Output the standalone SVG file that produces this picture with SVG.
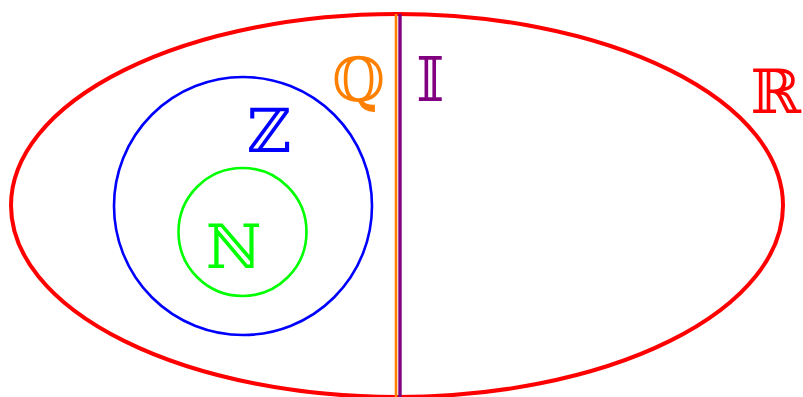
<svg xmlns="http://www.w3.org/2000/svg" width="803" height="397" viewBox="0 0 803 397">
<style>
.set{fill:none}
.lbl{font-family:"DejaVu Serif","DejaVu Sans",serif;font-size:61px}
</style>
<rect width="803" height="397" fill="#fff"/>
<g id="R">
<ellipse class="set" cx="397" cy="205.5" rx="386" ry="191.5" stroke="#ff0000" stroke-width="4"/>
<text class="lbl" x="801" y="113" text-anchor="end" fill="#ff0000">ℝ</text>
</g>
<g id="Z">
<circle class="set" cx="243" cy="206" r="129" stroke="#0000ff" stroke-width="2.6"/>
<text class="lbl" x="247" y="152" fill="#0000ff">ℤ</text>
</g>
<g id="N">
<circle class="set" cx="242.5" cy="232" r="64" stroke="#00ff00" stroke-width="2.6"/>
<text class="lbl" x="206" y="268" fill="#00ff00">ℕ</text>
</g>
<g id="Q">
<line x1="396" y1="14" x2="396" y2="397" stroke="#ff8000" stroke-width="2.6"/>
<text class="lbl" x="332" y="101" fill="#ff8000">ℚ</text>
</g>
<g id="I">
<line x1="400" y1="14" x2="400" y2="397" stroke="#800080" stroke-width="3.4"/>
<text class="lbl" x="416" y="101" fill="#800080">𝕀</text>
</g>
<g id="connectors"></g>
</svg>
